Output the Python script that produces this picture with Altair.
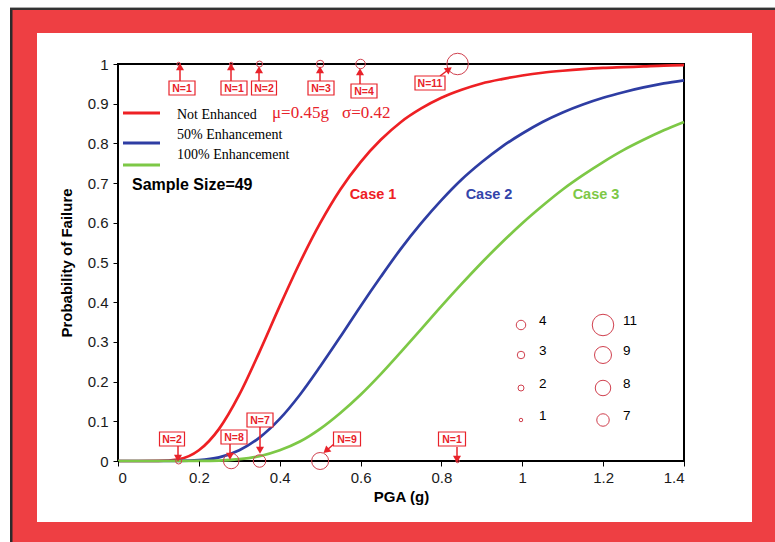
import altair as alt
import pandas as pd
import numpy as np

# ---------------- data ----------------
pga = [0.0, 0.05, 0.1, 0.15, 0.2, 0.25, 0.3, 0.35, 0.4, 0.45, 0.5, 0.55, 0.6, 0.65, 0.7,
       0.75, 0.8, 0.85, 0.9, 0.95, 1.0, 1.05, 1.1, 1.15, 1.2, 1.25, 1.3, 1.35, 1.4]
p_not_enhanced = [0, 0, 0.0002, 0.0045, 0.027, 0.081, 0.167, 0.275, 0.390, 0.5, 0.599, 0.684,
                  0.753, 0.809, 0.854, 0.888, 0.915, 0.935, 0.951, 0.962, 0.971, 0.978, 0.983,
                  0.987, 0.990, 0.992, 0.994, 0.996, 0.997]
p_50_enh = [0, 0, 0, 0.0002, 0.002, 0.009, 0.027, 0.059, 0.106, 0.167, 0.238, 0.313, 0.390,
            0.464, 0.535, 0.599, 0.657, 0.709, 0.753, 0.792, 0.825, 0.854, 0.878, 0.898, 0.915,
            0.929, 0.941, 0.951, 0.959]
p_100_enh = [0, 0, 0, 0, 0.0002, 0.001, 0.0045, 0.012, 0.027, 0.049, 0.081, 0.121, 0.167,
             0.219, 0.275, 0.332, 0.390, 0.446, 0.5, 0.551, 0.599, 0.643, 0.684, 0.720, 0.753,
             0.783, 0.809, 0.833, 0.854]
series_names = ["Not Enhanced", "50% Enhancement", "100% Enhancement"]
series_colors = ["#EE2024", "#2E3DA3", "#7DC846"]

# observed failures (y=1) and survivals (y=0)
fail_x = [0.15, 0.28, 0.35, 0.50, 0.60, 0.84]
fail_n = [1, 1, 2, 3, 4, 11]
surv_x = [0.15, 0.28, 0.35, 0.50, 0.84]
surv_n = [2, 8, 7, 9, 1]

size_domain = [1, 2, 3, 4, 7, 8, 9, 11]
size_range = [12, 36, 56, 90, 156, 240, 289, 462]
legend_left = [4, 3, 2, 1]
legend_right = [11, 9, 8, 7]

# ---------------- layout (page pixels) ----------------
PX0, PY0, W, H = 118, 64, 566, 397
XMAX = 1.4


def dx(px):
    return (px - PX0) / W * XMAX


def dy(py):
    return 1 - (py - PY0) / H


xs = alt.Scale(domain=[0, XMAX], nice=False, zero=False)
ys = alt.Scale(domain=[0, 1], nice=False, zero=False)
axis_font = "Liberation Sans"
XAX = alt.Axis(
    values=[0, 0.2, 0.4, 0.6, 0.8, 1.0, 1.2, 1.4], format="~g", title="PGA (g)",
    domain=False, ticks=True, tickSize=5, tickColor="black", grid=False,
    labelFont=axis_font, labelFontSize=15, labelColor="#1a1a1a", labelPadding=4,
    titleFont=axis_font, titleFontSize=15, titleFontWeight="bold", titleColor="black",
    titlePadding=4, zindex=2)
YAX = alt.Axis(
    values=[0, 0.1, 0.2, 0.3, 0.4, 0.5, 0.6, 0.7, 0.8, 0.9, 1.0], format="~g",
    title="Probability of Failure", domain=False, ticks=True, tickSize=5,
    tickColor="black", grid=False, labelFont=axis_font, labelFontSize=15,
    labelColor="#1a1a1a", labelPadding=5, titleFont=axis_font, titleFontSize=15,
    titleFontWeight="bold", titleColor="black", titlePadding=13, zindex=2)


def X(f):
    return alt.X(f, scale=xs, axis=XAX)


def Y(f):
    return alt.Y(f, scale=ys, axis=YAX)


# background frame
bg = pd.DataFrame([
    dict(x=dx(12), x2=dx(775), y=dy(10), y2=dy(542), c="#EE3F43"),
    dict(x=dx(10), x2=dx(12.5), y=dy(7), y2=dy(542), c="#2b2b2b"),
    dict(x=dx(10), x2=dx(775), y=dy(7), y2=dy(8), c="#aaaaaa"),
    dict(x=dx(10), x2=dx(775), y=dy(8), y2=dy(10), c="#333333"),
    dict(x=dx(37), x2=dx(752), y=dy(33), y2=dy(522), c="#ffffff"),
])
bg_layer = alt.Chart(bg).mark_rect().encode(
    x=X("x:Q"), x2="x2:Q", y=Y("y:Q"), y2="y2:Q",
    fill=alt.Fill("c:N", scale=None),
)

frame = alt.Chart(pd.DataFrame(dict(x=[0], x2=[XMAX], y=[0], y2=[1]))).mark_rect(
    filled=False, stroke="black", strokeWidth=2
).encode(x=X("x:Q"), x2="x2:Q", y=Y("y:Q"), y2="y2:Q")

# curves
curve_df = pd.concat([
    pd.DataFrame(dict(x=pga, y=vals, s=name))
    for name, vals in zip(series_names, [p_not_enhanced, p_50_enh, p_100_enh])
])
color_scale = alt.Scale(domain=series_names, range=series_colors)
curves = alt.Chart(curve_df).mark_line(strokeWidth=2.7, interpolate="monotone").encode(
    x=X("x:Q"), y=Y("y:Q"),
    color=alt.Color("s:N", scale=color_scale, legend=None),
    detail="s:N",
)

# observation circles
obs_df = pd.DataFrame(dict(x=fail_x + surv_x, y=[1] * len(fail_x) + [0] * len(surv_x),
                           n=fail_n + surv_n))
size_scale = alt.Scale(type="linear", domain=size_domain, range=size_range, zero=False)
circle_color = "#D0404E"
obs = alt.Chart(obs_df).mark_point(shape="circle", filled=False, color=circle_color,
                                   strokeWidth=1, opacity=1).encode(
    x=X("x:Q"), y=Y("y:Q"),
    size=alt.Size("n:Q", scale=size_scale, legend=None),
)

# size legend (layout in pixels)
leg_rows_py = [325, 355, 388, 420]
leg_df = pd.DataFrame(dict(
    x=[dx(521)] * 4 + [dx(603)] * 4,
    y=[dy(p) for p in leg_rows_py] * 2,
    n=legend_left + legend_right,
    tx=[dx(539)] * 4 + [dx(623)] * 4,
    ty=[dy(p - 4) for p in leg_rows_py] * 2,
))
leg_circles = alt.Chart(leg_df).mark_point(shape="circle", filled=False, color=circle_color,
                                           strokeWidth=1, opacity=1).encode(
    x=X("x:Q"), y=Y("y:Q"),
    size=alt.Size("n:Q", scale=size_scale, legend=None),
)
leg_text = alt.Chart(leg_df).mark_text(align="left", baseline="middle", font=axis_font,
                                       fontSize=13.5, color="#000000").encode(
    x=X("tx:Q"), y=Y("ty:Q"), text="n:N",
)

# N= annotation boxes and arrows (page pixels)
ann = [
    # label, box cx, cy, box width, arrow start, arrow end
    ("N=1", 182, 88, 26, (180, 81), (180, 68)),
    ("N=1", 234, 88, 26, (231, 81), (231, 68)),
    ("N=2", 264, 88, 25, (259, 81), (259, 71)),
    ("N=3", 321, 88, 26, (320, 81), (320, 71)),
    ("N=4", 364, 91, 26, (360, 84), (360, 73)),
    ("N=11", 430, 83, 30, (440, 76), (448, 70)),
    ("N=2", 172, 439, 25, (178, 446), (178, 457)),
    ("N=8", 234, 437, 26, (230, 443), (230, 455)),
    ("N=7", 260, 420, 26, (260, 427), (260, 449)),
    ("N=9", 347, 439, 27, (334, 444), (327, 450)),
    ("N=1", 452, 439, 27, (457, 447), (457, 458)),
]
box_rows, arrow_rows = [], []
for lab, cx, cy, bw, (sx, sy), (ex, ey) in ann:
    box_rows.append(dict(x=dx(cx - bw / 2), x2=dx(cx + bw / 2), y=dy(cy - 7), y2=dy(cy + 7),
                         tx=dx(cx), ty=dy(cy + 0.5), t=lab))
    ang = float(np.degrees(np.arctan2(ex - sx, -(ey - sy)))) % 360
    arrow_rows.append(dict(x=dx(sx), y=dy(sy), x2=dx(ex), y2=dy(ey), a=ang))
box_df = pd.DataFrame(box_rows)
arr_df = pd.DataFrame(arrow_rows)
ann_red = "#E8222A"
boxes = alt.Chart(box_df).mark_rect(fill="white", stroke=ann_red, strokeWidth=1.2).encode(
    x=X("x:Q"), x2="x2:Q", y=Y("y:Q"), y2="y2:Q")
box_text = alt.Chart(box_df).mark_text(font=axis_font, fontSize=10.5, fontWeight="bold",
                                       color=ann_red, baseline="middle").encode(
    x=X("tx:Q"), y=Y("ty:Q"), text="t:N")
arrows = alt.Chart(arr_df).mark_rule(color=ann_red, strokeWidth=1.5).encode(
    x=X("x:Q"), x2="x2:Q", y=Y("y:Q"), y2="y2:Q")
heads = alt.Chart(arr_df).mark_point(shape="triangle", filled=True, color=ann_red, size=65,
                                     opacity=1).encode(
    x=X("x2:Q"), y=Y("y2:Q"), angle=alt.Angle("a:Q", scale=None))

# line legend (top-left)
ll_df = pd.DataFrame(dict(
    x=[dx(123)] * 3, x2=[dx(160)] * 3, y=[dy(113), dy(143), dy(165)],
    s=series_names, tx=[dx(177)] * 3, ty=[dy(115), dy(135), dy(155)],
))
ll_lines = alt.Chart(ll_df).mark_rule(strokeWidth=3).encode(
    x=X("x:Q"), x2="x2:Q", y=Y("y:Q"), y2="y:Q",
    color=alt.Color("s:N", scale=color_scale, legend=None))
ll_text = alt.Chart(ll_df).mark_text(align="left", baseline="middle", font="Liberation Serif",
                                     fontSize=14, color="black").encode(
    x=X("tx:Q"), y=Y("ty:Q"), text="s:N")

# free text annotations
txt_df = pd.DataFrame([
    dict(x=dx(272), y=dy(113), t="\u03bc=0.45g", c="#E8222A", f="Liberation Serif", s=17, w="normal", a="left"),
    dict(x=dx(342), y=dy(113), t="\u03c3=0.42", c="#E8222A", f="Liberation Serif", s=17, w="normal", a="left"),
    dict(x=dx(132), y=dy(185), t="Sample Size=49", c="black", f=axis_font, s=16, w="bold", a="left"),
    dict(x=dx(373), y=dy(195), t="Case 1", c="#EE2024", f=axis_font, s=14.5, w="bold", a="center"),
    dict(x=dx(489), y=dy(195), t="Case 2", c="#3344AA", f=axis_font, s=14.5, w="bold", a="center"),
    dict(x=dx(596), y=dy(195), t="Case 3", c="#7DC846", f=axis_font, s=14.5, w="bold", a="center"),
])
texts = []
for _, r in txt_df.iterrows():
    texts.append(alt.Chart(txt_df[txt_df.t == r.t]).mark_text(
        align=r.a, baseline="middle", font=r.f, fontSize=float(r.s), fontWeight=r.w, color=r.c
    ).encode(x=X("x:Q"), y=Y("y:Q"), text="t:N"))

chart = alt.layer(
    bg_layer, frame, curves, obs, leg_circles, leg_text, arrows, heads, boxes, box_text,
    ll_lines, ll_text, *texts
).properties(
    width=W, height=H,
    autosize=alt.AutoSizeParams(type="none"),
    padding={"left": PX0, "top": PY0, "right": 775 - PX0 - W, "bottom": 542 - PY0 - H},
    background="white",
).configure_view(stroke=None)

chart.save("out.html", embed_options={"renderer": "svg", "actions": False})
